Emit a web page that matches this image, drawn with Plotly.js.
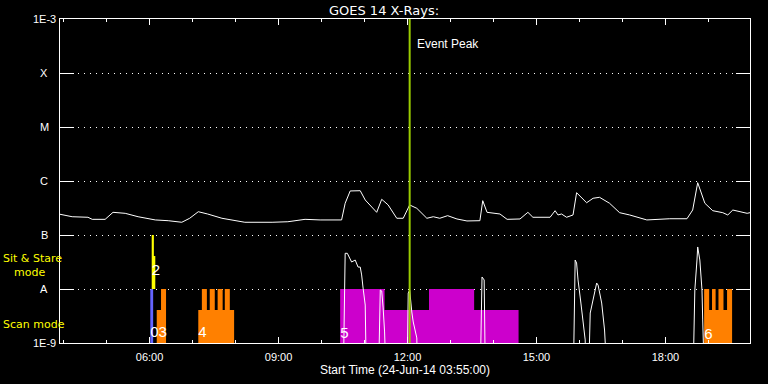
<!DOCTYPE html>
<html>
<head>
<meta charset="utf-8">
<script src="https://cdn.plot.ly/plotly-3.0.1.min.js"></script>
<style>
html,body{margin:0;padding:0;background:#000;}
#chart{width:768px;height:384px;}
</style>
</head>
<body>
<div id="chart"></div>
<script>
// ---------- DATA ----------
const day = '2014-06-24 ';
const xStart = '03:55';
const xEnd = '19:58';
const eventPeak = '12:03';

// GOES 14 X-ray flux (W/m^2)
const goesTime = ['03:55','04:12','04:34','04:40','04:58','05:09','05:26','05:44','06:08','06:26','06:45','06:56','07:08','07:21','07:41','08:13','08:51','09:13','09:37','09:58','10:28','10:33','10:40','10:54','11:01','11:17','11:24','11:33','11:45','11:54','12:03','12:13','12:27','12:36','12:45','12:56','13:09','13:23','13:41','13:45','13:51','14:09','14:19','14:37','14:48','14:55','15:19','15:26','15:30','15:35','15:42','15:51','15:56','16:10','16:19','16:28','16:42','16:56','17:10','17:34','18:06','18:30','18:38','18:45','18:55','19:06','19:20','19:27','19:34','19:54','19:58'];
const goesFlux = [2.42e-7,2.18e-7,2.13e-7,1.95e-7,1.95e-7,2.63e-7,2.52e-7,2.18e-7,1.90e-7,1.84e-7,1.72e-7,2.04e-7,2.70e-7,2.45e-7,2.04e-7,1.72e-7,1.72e-7,1.76e-7,1.95e-7,1.90e-7,1.90e-7,3.87e-7,6.54e-7,6.61e-7,4.45e-7,2.63e-7,4.58e-7,3.60e-7,2.04e-7,2.04e-7,3.60e-7,3.12e-7,2.04e-7,2.18e-7,2.04e-7,2.28e-7,1.98e-7,1.82e-7,1.84e-7,4.32e-7,2.63e-7,2.45e-7,1.95e-7,1.98e-7,2.63e-7,2.13e-7,2.13e-7,2.82e-7,2.35e-7,2.45e-7,2.13e-7,2.35e-7,6.07e-7,3.96e-7,4.79e-7,4.99e-7,3.87e-7,2.59e-7,2.35e-7,1.90e-7,2.00e-7,2.00e-7,2.90e-7,9.31e-7,3.87e-7,2.82e-7,2.59e-7,2.35e-7,2.90e-7,2.52e-7,2.59e-7];

// secondary (lower) light-curve
const lowTime = ['10:30','10:33','10:36','10:37','10:42','10:47','10:51','10:54','10:56','10:58','11:01','11:03',
  '11:19','11:22','11:24','11:26','11:28','11:31',
  '11:59','12:01','12:03','12:06','12:08','12:13','12:14',
  '13:41','13:44','13:47','13:48','13:49',
  '15:51','15:54','15:56','15:58','16:02','16:05','16:08','16:09',
  '16:12','16:15','16:19','16:24','16:26','16:31','16:35','16:40',
  '18:38','18:41','18:44','18:45','18:48','18:51','18:52','18:55'];
const lowFlux = [1e-10,4.58e-8,4.58e-8,4.26e-8,3.16e-8,3.44e-8,2.55e-8,2.55e-8,1.82e-8,1.04e-8,5.05e-9,1e-10,
  1e-10,9.58e-9,9.2e-9,4.45e-9,1.6e-9,1e-10,
  1e-10,8.43e-9,9.58e-9,3.75e-9,2.45e-9,1.24e-9,1e-10,
  1e-10,1.67e-8,1.47e-8,4.08e-9,1e-10,
  1e-10,3.44e-8,3.03e-8,1.47e-8,5.5e-9,2.35e-9,1.14e-9,1e-10,
  1e-10,3.59e-9,6.26e-9,1.29e-8,1.18e-8,5.5e-9,1.74e-9,1e-10,
  1e-10,9.58e-9,3.44e-8,6.0e-8,3.44e-8,9.58e-9,2.67e-9,1e-10];

// observation blocks
const scanBase = 1e-9;
const sitStareBase = 1e-8;
const blueStart = ['06:01'], blueEnd = ['06:05'], blueTop = [1e-8];
const yellowStart = ['06:03','06:03'], yellowEnd = ['06:06','06:08'], yellowTop = [1e-7,4.08e-8];
const orangeStart = ['06:10','06:16','07:08','07:13','07:24','07:35','07:45','18:54','18:54','19:05','19:14','19:26'];
const orangeEnd   = ['06:23','06:23','07:58','07:20','07:31','07:42','07:52','19:33','19:01','19:10','19:21','19:33'];
const orangeTop   = [4.08e-9,1e-8,4.08e-9,1e-8,1e-8,1e-8,1e-8,4.08e-9,1e-8,1e-8,1e-8,1e-8];
const magentaStart = ['10:26','11:28','12:30','13:33'];
const magentaEnd   = ['11:28','12:30','13:33','14:35'];
const magentaTop   = [1e-8,4.08e-9,1e-8,4.08e-9];

const obsLabels = ['03','2','4','5','6'];
const obsLabelTime = ['06:01','06:03','07:08','10:26','18:54'];

const yTickVals = [1e-9,1e-8,1e-7,1e-6,1e-5,1e-4,1e-3];
const yTickText = ['1E-9','A','B','C','M','X','1E-3'];

// ---------- BUILD ----------
const T = a => a.map(s => day + s);
function rects(starts, ends, tops, base){
  const x=[], y=[];
  for(let i=0;i<starts.length;i++){
    const s=day+starts[i], e=day+ends[i];
    x.push(s,e,e,s,s,null);
    y.push(base,base,tops[i],tops[i],base,null);
  }
  return {x,y};
}
function rectTrace(r,color){
  return {x:r.x,y:r.y,type:'scatter',mode:'lines',fill:'toself',fillcolor:color,
    line:{width:0,color:color},hoverinfo:'skip',showlegend:false,connectgaps:false};
}
const traces = [
  rectTrace(rects(magentaStart,magentaEnd,magentaTop,scanBase),'#cc00cc'),
  rectTrace(rects(orangeStart,orangeEnd,orangeTop,scanBase),'#ff8000'),
  rectTrace(rects(blueStart,blueEnd,blueTop,scanBase),'#6464ff'),
  rectTrace(rects(yellowStart,yellowEnd,yellowTop,sitStareBase),'#ffff00'),
  {x:T(goesTime),y:goesFlux,type:'scatter',mode:'lines',line:{color:'#ffffff',width:1},showlegend:false},
  {x:T(lowTime),y:lowFlux,type:'scatter',mode:'lines',line:{color:'#ffffff',width:1},showlegend:false},
  {x:T(obsLabelTime),y:[1.5e-9,2.1e-8,1.5e-9,1.45e-9,1.4e-9],text:obsLabels,type:'scatter',mode:'text',
   textposition:'middle right',textfont:{family:'Liberation Sans',size:15,color:'#ffffff'},showlegend:false,cliponaxis:false}
];

const font = {family:'Liberation Sans, Arial, sans-serif', size:11, color:'#ffffff'};
const dv = (size,color) => ({family:'DejaVu Sans, sans-serif', size:size, color:color});

// y tick labels centred left of the axis (built from the tick arrays)
const yLabelAnns = yTickVals.map((v,i) => ({
  xref:'paper', yref:'y', x:0, xshift:-16, y:Math.log10(v), text:yTickText[i], showarrow:false,
  xanchor:'center', yanchor:'middle', font:font
}));

const layout = {
  width:768, height:384,
  paper_bgcolor:'#000', plot_bgcolor:'#000',
  margin:{l:60,r:18,t:19,b:41},
  font:font,
  showlegend:false,
  title:{text:'GOES 14 X-Rays:', font:dv(13,'#fff'),
    x:0.5, xref:'container', y:1-10/384, yref:'container', yanchor:'middle'},
  xaxis:{type:'date', range:[day+xStart, day+xEnd],
    tick0:day.trim()+' 00:00', dtick:3*3600000, tickformat:'%H:%M',
    ticks:'inside', ticklen:6, tickcolor:'#fff', tickwidth:1,
    minor:{dtick:3600000, ticks:'inside', ticklen:3, tickcolor:'#fff', showgrid:false},
    showline:true, linecolor:'#fff', linewidth:1, mirror:'ticks',
    showgrid:false, zeroline:false, ticklabelstandoff:4,
    tickfont:font,
    title:{text:'Start Time (24-Jun-14 03:55:00)', font:{family:'Liberation Sans, Arial, sans-serif', size:12, color:'#fff'}, standoff:1}},
  yaxis:{type:'log', range:[-9,-3], tickvals:yTickVals, ticktext:yTickText, showticklabels:false,
    ticks:'inside', ticklen:14, tickcolor:'#fff', tickwidth:1,
    showline:true, linecolor:'#fff', linewidth:1, mirror:'ticks',
    showgrid:true, gridcolor:'#fff', griddash:'1px,5px', gridwidth:1,
    zeroline:false, tickfont:font},
  shapes:[{type:'line', xref:'x', yref:'paper', x0:day+eventPeak, x1:day+eventPeak, y0:0, y1:1,
    line:{color:'#99cc00', width:2}, layer:'above'}],
  annotations:yLabelAnns.concat([
    {xref:'x', yref:'paper', x:day+eventPeak, y:(343-44)/324, text:'Event Peak', showarrow:false,
     xanchor:'left', yanchor:'middle', xshift:5, font:{family:'Liberation Sans, Arial, sans-serif', size:12, color:'#fff'}},
    {xref:'paper', yref:'paper', x:0, xshift:-59, y:(343-258)/324, text:'Sit & Stare', showarrow:false,
     xanchor:'left', yanchor:'middle', font:dv(11,'#ffff00')},
    {xref:'paper', yref:'paper', x:0, xshift:-48, y:(343-272)/324, text:'mode', showarrow:false,
     xanchor:'left', yanchor:'middle', font:dv(11,'#ffff00')},
    {xref:'paper', yref:'paper', x:0, xshift:-59, y:(343-324)/324, text:'Scan mode', showarrow:false,
     xanchor:'left', yanchor:'middle', font:dv(11,'#ffff00')}
  ])
};
Plotly.newPlot('chart', traces, layout, {staticPlot:true, displayModeBar:false});
</script>
</body>
</html>
